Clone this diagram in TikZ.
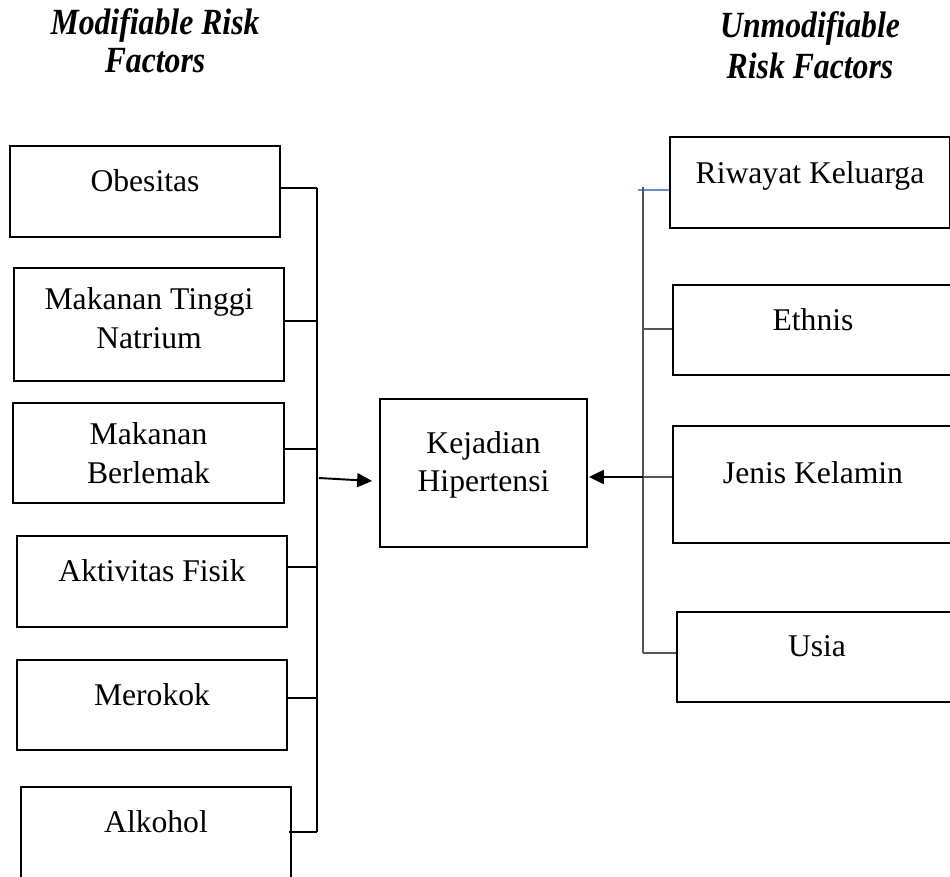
\documentclass[tikz,border=0pt]{standalone}
\usepackage{fontspec}
\setmainfont{Liberation Serif}
\newfontfamily\titlefont[FakeStretch=0.86]{Liberation Serif}
\usetikzlibrary{arrows.meta, calc}
\definecolor{linkblue}{RGB}{105,145,205}
\definecolor{busgray}{RGB}{85,85,85}
\newcommand{\dpad}[1][12.2pt]{\rule[-#1]{0pt}{#1}}

\begin{document}
\begin{tikzpicture}[x=0.02cm, y=-0.02cm, >={Triangle[length=8.5pt, width=8pt]},
    factor/.style={draw, line width=1.2pt, inner sep=0pt, align=center,
      font=\fontsize{18}{22}\selectfont, minimum width=5.4cm, minimum height=1.82cm},
    title/.style={inner sep=0pt, align=center,
      font=\titlefont\bfseries\itshape\fontsize{21}{21.5}\selectfont},
    link/.style={line width=0.6pt},
    arr/.style={->, line width=1.1pt}]
  \useasboundingbox (0,0) rectangle (950,876);
  \clip (0,0) rectangle (950,876);

  % titles
  \node[title] (mod) at (155,41) {Modifiable Risk\\Factors};
  \node[title, font=\titlefont\bfseries\itshape\fontsize{21}{23}\selectfont] (unmod) at (810,45) {Unmodifiable\\Risk Factors};

  % modifiable factors
  \node[factor] (obes) at (145,191.5) {Obesitas\dpad};
  \node[factor, minimum height=2.26cm] (natr) at (149,324.5) {Makanan Tinggi\\Natrium\dpad[7.2pt]};
  \node[factor, minimum width=5.42cm, minimum height=2cm] (lemak) at (148.5,453) {Makanan\\Berlemak};
  \node[factor] (fisik) at (152,581.5) {Aktivitas Fisik\dpad};
  \node[factor, minimum height=1.8cm] (rokok) at (152,705) {Merokok\dpad};
  \node[factor, minimum height=1.88cm] (alko) at (156,834) {Alkohol\dpad[14.6pt]};

  % outcome
  \node[factor, line width=1.1pt, minimum width=4.14cm, minimum height=2.96cm] (hyp) at (483.5,473) {Kejadian\\Hipertensi\dpad[12.9pt]};

  % unmodifiable factors
  \node[factor, minimum width=5.6cm] (riw) at (810,182.5) {Riwayat Keluarga\dpad[11pt]};
  \node[factor, minimum width=5.6cm, minimum height=1.8cm] (eth) at (813,330) {Ethnis\dpad};
  \node[factor, minimum width=5.6cm, minimum height=2.34cm] (jk) at (813,484.5) {Jenis Kelamin\dpad[14pt]};
  \node[factor, minimum width=5.6cm, minimum height=1.8cm] (usia) at (817,657) {Usia\dpad[13pt]};

  % left bus
  \coordinate (l1) at (317,188);
  \coordinate (l2) at (317,321);
  \coordinate (l3) at (317,449);
  \coordinate (l4) at (317,567);
  \coordinate (l5) at (317,698);
  \coordinate (l6) at (317,832);
  \coordinate (lin) at (319,478);
  \draw[link] (obes.east |- l1) -- (l1);
  \draw[link] (natr.east |- l2) -- (l2);
  \draw[link] (lemak.east |- l3) -- (l3);
  \draw[link] (fisik.east |- l4) -- (l4);
  \draw[link] (rokok.east |- l5) -- (l5);
  \draw[link] ([xshift=-2pt]alko.east |- l6) -- (l6);
  \draw[link] (l1) -- (l6);

  % right bus
  \coordinate (r0) at (643,187);
  \coordinate (r1) at (638,190);
  \coordinate (r2) at (643,329);
  \coordinate (r3) at (643,477);
  \coordinate (r4) at (643,653);
  \draw[link, linkblue] (r1) -- (riw.west |- r1);
  \draw[link, busgray] (r0) -- (r4);
  \draw[link, busgray] (r2) -- (eth.west |- r2);
  \draw[link, busgray] (r3) -- (jk.west |- r3);
  \draw[link, busgray] (r4) -- (usia.west |- r4);

  % arrows into the outcome
  \draw[arr] (lin) -- ($(hyp.west)+(-7,8)$);
  \draw[arr] (r3) -- ($(hyp.east)+(1,4)$);
\end{tikzpicture}
\end{document}
